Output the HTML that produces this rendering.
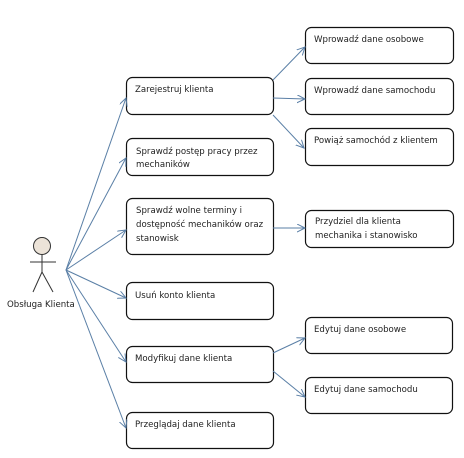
<!DOCTYPE html>
<html><head><meta charset="utf-8"><style>
html,body{margin:0;padding:0;background:#fff;}
svg{display:block;}
text{font-family:"DejaVu Sans","Liberation Sans",sans-serif;font-size:8.6px;fill:#222;}
</style></head><body>
<svg width="464" height="458" viewBox="0 0 464 458" xmlns="http://www.w3.org/2000/svg">
<defs>
<marker id="a" markerWidth="10" markerHeight="10" refX="8" refY="4" orient="auto" markerUnits="userSpaceOnUse">
<path d="M0,0 L8,4 L0,8" fill="none" stroke="#5a7fa6" stroke-width="1"/>
</marker>
</defs>
<g fill="#fff" stroke="#111" stroke-width="1.2">
<rect x="126.5" y="77.5" width="147" height="37" rx="6"/>
<rect x="126.5" y="138.5" width="147" height="37" rx="6"/>
<rect x="126.5" y="198.5" width="147" height="56" rx="6"/>
<rect x="126.5" y="282.5" width="147" height="37" rx="6"/>
<rect x="126.5" y="346.5" width="147" height="36" rx="6"/>
<rect x="126.5" y="412.5" width="147" height="36" rx="6"/>
<rect x="305.5" y="27.5" width="148" height="36" rx="6"/>
<rect x="305.5" y="78.5" width="148" height="36" rx="6"/>
<rect x="305.5" y="128.5" width="148" height="37" rx="6"/>
<rect x="305.5" y="210.5" width="148" height="37" rx="6"/>
<rect x="305.5" y="317.5" width="147" height="36" rx="6"/>
<rect x="305.5" y="377.5" width="147" height="36" rx="6"/>
</g>
<g stroke="#5a7fa6" stroke-width="1" fill="none" marker-end="url(#a)">
<line x1="66" y1="270" x2="126" y2="98"/>
<line x1="66" y1="270" x2="126" y2="158"/>
<line x1="66" y1="270" x2="126" y2="230"/>
<line x1="66" y1="270" x2="126" y2="298"/>
<line x1="66" y1="270" x2="126" y2="362"/>
<line x1="66" y1="270" x2="126" y2="428"/>
<line x1="273" y1="80" x2="305" y2="47"/>
<line x1="273" y1="98" x2="305" y2="99"/>
<line x1="273" y1="115" x2="304" y2="148"/>
<line x1="273" y1="228" x2="305" y2="228"/>
<line x1="273" y1="353" x2="305" y2="338"/>
<line x1="273" y1="371" x2="305" y2="397"/>
</g>
<g stroke="#333" stroke-width="1" fill="none">
<circle cx="42" cy="246" r="8.5" fill="#ece3d8"/>
<line x1="42" y1="254.5" x2="42" y2="272"/>
<line x1="30" y1="262" x2="56" y2="262"/>
<line x1="42" y1="272" x2="33" y2="292"/>
<line x1="42" y1="272" x2="53" y2="292"/>
</g>
<text x="7" y="307">Obsługa Klienta</text>
<text x="135" y="92">Zarejestruj klienta</text>
<text x="136" y="154">Sprawdź postęp pracy przez</text>
<text x="136" y="167">mechaników</text>
<text x="136" y="213">Sprawdź wolne terminy i</text>
<text x="136" y="227">dostępność mechaników oraz</text>
<text x="136" y="241">stanowisk</text>
<text x="135" y="298">Usuń konto klienta</text>
<text x="135" y="361">Modyfikuj dane klienta</text>
<text x="135" y="427">Przeglądaj dane klienta</text>
<text x="314" y="42">Wprowadź dane osobowe</text>
<text x="314" y="93">Wprowadź dane samochodu</text>
<text x="314" y="143">Powiąż samochód z klientem</text>
<text x="315" y="224">Przydziel dla klienta</text>
<text x="315" y="238">mechanika i stanowisko</text>
<text x="314" y="332">Edytuj dane osobowe</text>
<text x="314" y="392">Edytuj dane samochodu</text>
</svg>
</body></html>
